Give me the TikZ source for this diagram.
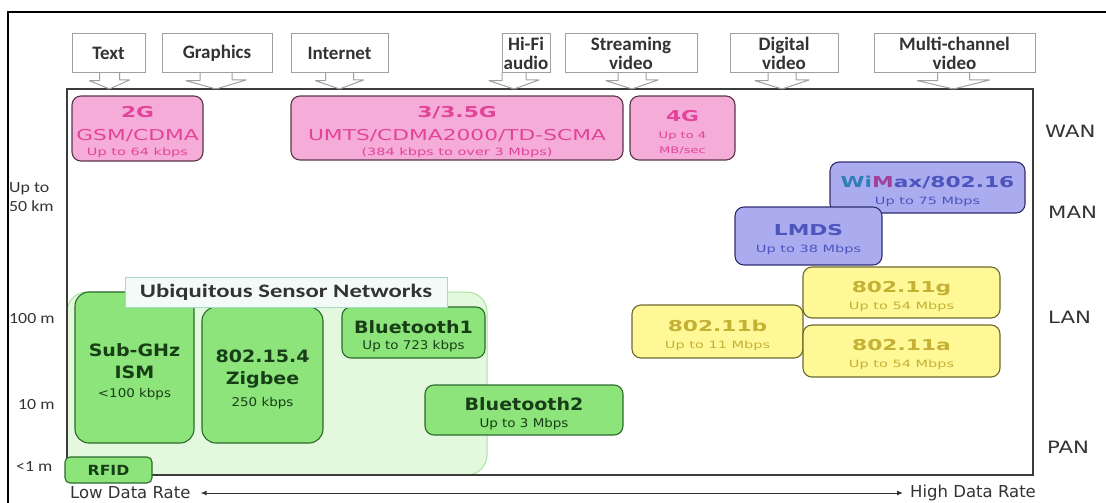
\documentclass[tikz,border=0pt]{standalone}
\usepackage{fontspec}
\setmainfont{DejaVu Sans}
\newfontfamily\lblfont{Carlito}
\newfontfamily\usnfont[FakeStretch=1.3]{Carlito}
\newfontfamily\axisfont[FakeStretch=1.15]{Carlito}
\newfontfamily\widefont[FakeStretch=1.45]{DejaVu Sans}
\newfontfamily\greenfont[FakeStretch=1.12]{DejaVu Sans}
\newfontfamily\bandfont[FakeStretch=1.25]{DejaVu Sans}
\usetikzlibrary{arrows.meta,calc}
\definecolor{wsnPink}{HTML}{F5ACD8}
\definecolor{wsnPinkInk}{HTML}{E2449A}
\definecolor{wsnPinkLine}{HTML}{5A3448}
\definecolor{wsnBlue}{HTML}{ABABF0}
\definecolor{wsnBlueInk}{HTML}{4C55BE}
\definecolor{wsnBlueLine}{HTML}{2E2E6E}
\definecolor{wsnTeal}{HTML}{2F7FB5}
\definecolor{wsnPlum}{HTML}{A0409A}
\definecolor{wsnYellow}{HTML}{FFF896}
\definecolor{wsnYellowInk}{HTML}{C4B034}
\definecolor{wsnYellowLine}{HTML}{6E6A2E}
\definecolor{wsnGreen}{HTML}{8CE47A}
\definecolor{wsnGreenInk}{HTML}{183E18}
\definecolor{wsnGreenLine}{HTML}{2C6A2C}
\definecolor{wsnField}{HTML}{E4F8DE}
\definecolor{wsnFieldLine}{HTML}{A8E4A0}
\definecolor{wsnTag}{HTML}{F3FBF8}
\definecolor{wsnTagLine}{HTML}{A6DACB}
\definecolor{wsnGray}{HTML}{333333}
\definecolor{wsnFrame}{HTML}{3C3C3C}
\definecolor{wsnFeed}{HTML}{A0A0A0}
\newcommand{\speed}[2][10]{{\fontsize{#1}{#1}\selectfont #2}}
\newcommand{\gspeed}[1]{{\mdseries\fontsize{12}{12}\selectfont #1}}
\newcommand{\capstrut}[1][19]{\rule{0pt}{#1pt}}

\begin{document}
\begin{tikzpicture}[x=1pt,y=-1pt,
  appbox/.style={draw=wsnFeed,fill=white,inner sep=0pt,minimum height=39pt,align=center,text=wsnGray,font=\lblfont\bfseries\fontsize{19}{19}\selectfont},
  feed/.style={draw=wsnFeed,line width=1pt,line join=round},
  techbox/.style={draw,rounded corners=9pt,inner sep=0pt,align=center,line width=1.1pt},
  pinkbox/.style={techbox,fill=wsnPink,draw=wsnPinkLine,text=wsnPinkInk,font=\widefont\fontsize{15}{18}\selectfont},
  bluebox/.style={techbox,fill=wsnBlue,draw=wsnBlueLine,text=wsnBlueInk,font=\widefont\fontsize{15}{18}\selectfont},
  yellowbox/.style={techbox,fill=wsnYellow,draw=wsnYellowLine,text=wsnYellowInk,font=\widefont\fontsize{15}{18}\selectfont},
  greenbox/.style={techbox,rounded corners=14pt,fill=wsnGreen,draw=wsnGreenLine,text=wsnGreenInk,font=\greenfont\bfseries\fontsize{17}{22}\selectfont},
  bandlbl/.style={anchor=west,inner sep=0pt,font=\bandfont\fontsize{17}{17}\selectfont,text=wsnGray},
  distlbl/.style={anchor=west,inner sep=0pt,align=left,font=\axisfont\fontsize{15.5}{19}\selectfont,text=wsnGray},
  ratelbl/.style={anchor=west,inner sep=0pt,font=\fontsize{16.5}{17}\selectfont,text=wsnGray},
  rateaxis/.style={{Latex[length=6pt,width=5pt]}-{Latex[length=6pt,width=5pt]},line width=1pt,wsnGray}]
  \useasboundingbox (0,0) rectangle (1106,503);
  \draw[line width=1.2pt] (8,503) -- (8,12) -- (1106,12);
  \node[draw=wsnFieldLine,fill=wsnField,rounded corners=20pt,line width=1pt,inner sep=0pt,minimum width=420pt,minimum height=183pt] (usn) at (277,383.5) {};
  \node[draw=wsnFrame,line width=2pt,inner sep=0pt,outer sep=0pt,minimum width=966pt,minimum height=386pt] (chart) at (550,282) {};
  \node[appbox,minimum width=73pt] (txt) at (108.5,53) {Text};
  \node[appbox,minimum width=110pt] (graphics) at (217,53) {Graphics};
  \node[appbox,minimum width=97pt] (internet) at (339.5,53) {Internet};
  \node[appbox,minimum width=48pt] (hifi) at (526,53) {Hi-Fi\\audio};
  \node[appbox,minimum width=132pt] (streaming) at (631,53) {Streaming\\video};
  \node[appbox,minimum width=108pt] (digital) at (784,53) {Digital\\video};
  \node[appbox,minimum width=161pt] (multich) at (954.5,53) {Multi-channel\\video};
  \foreach \n/\o/\s/\h in {txt/1/10/20,graphics/-1/16/30,internet/0/14/24,hifi/-12/12/25,streaming/1/14/26,digital/-2/14/27,multich/-1/16/36}
    \draw[feed] ($(\n.south)+(\o-\s,0)$) -- ++(0,8) -- ++(\s-\h,0) -- ($(\n.south |- chart.north)+(\o,0)$) -- ++(\h,-9) -- ++(\s-\h,0) -- ++(0,-8);
  \node[pinkbox,minimum width=131pt,minimum height=65pt] (twog) at (137.5,128.5) {\capstrut\textbf{2G}\\[5pt]GSM/CDMA\\[-3pt]\speed{Up to 64 kbps}};
  \node[pinkbox,minimum width=332pt,minimum height=64pt] (threeg) at (457,128) {\capstrut\textbf{3/3.5G}\\[5pt]UMTS/CDMA2000/TD-SCMA\\[-3pt]\speed{(384 kbps to over 3 Mbps)}};
  \node[pinkbox,minimum width=105pt,minimum height=64pt] (fourg) at (682.5,128) {\capstrut\textbf{4G}\\[-1pt]\speed[9]{Up to 4}\\[-3pt]\speed[9]{MB/sec}};
  \node[bluebox,minimum width=195pt,minimum height=51pt] (wimax) at (927.5,187.5) {\capstrut\textbf{\textcolor{wsnTeal}{Wi}\textcolor{wsnPlum}{M}ax/802.16}\\[-1pt]\speed{Up to 75 Mbps}};
  \node[bluebox,minimum width=147pt,minimum height=58pt] (lmds) at (808.5,236) {\capstrut\textbf{LMDS}\\[-1pt]\speed{Up to 38 Mbps}};
  \node[yellowbox,minimum width=197pt,minimum height=51pt] (wifig) at (901.5,292.5) {\capstrut\textbf{802.11g}\\[-1pt]\speed{Up to 54 Mbps}};
  \node[yellowbox,minimum width=171pt,minimum height=53pt] (wifib) at (717.5,331.5) {\capstrut\textbf{802.11b}\\[-1pt]\speed{Up to 11 Mbps}};
  \node[yellowbox,minimum width=197pt,minimum height=52pt] (wifia) at (901.5,351) {\capstrut\textbf{802.11a}\\[-1pt]\speed{Up to 54 Mbps}};
  \node[greenbox,minimum width=119pt,minimum height=151pt] (subghz) at (134.5,367.5) {\capstrut[21]Sub-GHz\\ISM\\[-3pt]\gspeed{<100 kbps}};
  \node[greenbox,minimum width=121pt,minimum height=136pt] (zigbee) at (262.5,375) {\capstrut[21]802.15.4\\Zigbee\\[0pt]\gspeed{250 kbps}};
  \node[greenbox,rounded corners=9pt,minimum width=143pt,minimum height=51pt] (btone) at (413.5,332.5) {\capstrut[21]Bluetooth1\\[-6pt]\gspeed{Up to 723 kbps}};
  \node[greenbox,rounded corners=9pt,minimum width=198pt,minimum height=50pt] (bttwo) at (524,410) {\capstrut[21]Bluetooth2\\[-5pt]\gspeed{Up to 3 Mbps}};
  \node[greenbox,rounded corners=5pt,minimum width=87pt,minimum height=26pt,font=\greenfont\bfseries\fontsize{14}{14}\selectfont] (rfid) at (108.5,470) {RFID};
  \node[fill=wsnTag,draw=wsnTagLine,inner sep=0pt,minimum width=322pt,minimum height=30pt,text=wsnGray,font=\usnfont\bfseries\fontsize{19}{19}\selectfont] (usntag) at (286,292) {Ubiquitous Sensor Networks};
  \node[bandlbl] (wan) at (1045,131.5) {WAN};
  \node[bandlbl] (man) at (1048,212) {MAN};
  \node[bandlbl] (lan) at (1048,317) {LAN};
  \node[bandlbl] (pan) at (1047,447) {PAN};
  \node[distlbl] (km50) at (9,197.5) {Up to\\50 km};
  \node[distlbl] (m100) at (9,319) {100 m};
  \node[distlbl] (m10) at (18,405) {10 m};
  \node[distlbl] (m1) at (16,467) {<1 m};
  \node[ratelbl] (lowrate) at (70,493) {Low Data Rate};
  \node[ratelbl] (highrate) at (910,493) {High Data Rate};
  \draw[rateaxis] ([xshift=10pt]lowrate.east) -- ([xshift=-7pt]highrate.west);
\end{tikzpicture}
\end{document}
